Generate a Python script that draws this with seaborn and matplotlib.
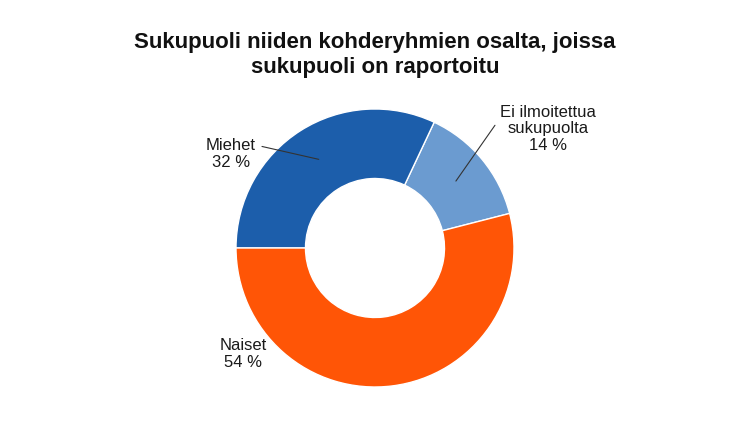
import matplotlib
matplotlib.use("Agg")
import matplotlib.pyplot as plt
import seaborn as sns
import numpy as np

title = "Sukupuoli niiden kohderyhmien osalta, joissa\nsukupuoli on raportoitu"
categories = ["Ei ilmoitettua\nsukupuolta", "Miehet", "Naiset"]
values = [14, 32, 54]
value_labels = ["14 %", "32 %", "54 %"]
colors = ["#6b9bd0", "#1c5eab", "#ff5506"]

sns.set_theme(style="white")
plt.rcParams["font.family"] = ["Liberation Sans", "DejaVu Sans"]

W, H = 750, 436
fig = plt.figure(figsize=(W / 100, H / 100), dpi=100)
ax = fig.add_axes([0, 0, 1, 1])

cx, cy, R = 375, H - 248, 139
start = 180 - (values[0] + values[1]) * 3.6
wedges, _ = ax.pie(values, colors=sns.color_palette(colors), startangle=start,
                   counterclock=True, center=(cx, cy), radius=R, frame=True,
                   wedgeprops=dict(width=R * 0.5, edgecolor="white", linewidth=1))
ax.set_xlim(0, W)
ax.set_ylim(0, H)
ax.set_axis_off()

# label text positions (pixels from top-left) and leader line styles
text_pos = [(548, 129), (231, 154), (243, 354)]
leader = [True, True, False]
relpos = [(0.0, 0.62), (1.0, 0.78), (0.5, 0.5)]
conn = ["angle,angleA=0,angleB=55,rad=0", "arc3,rad=0", None]
for w, cat, vl, (tx, ty), ld, rp, cs in zip(wedges, categories, value_labels,
                                            text_pos, leader, relpos, conn):
    mid = np.deg2rad((w.theta1 + w.theta2) / 2)
    px, py = cx + 105 * np.cos(mid), cy + 105 * np.sin(mid)
    kw = {}
    if ld:
        kw["arrowprops"] = dict(arrowstyle="-", color="#333333", lw=0.8,
                                shrinkA=2, shrinkB=0, relpos=rp,
                                connectionstyle=cs)
    ax.annotate(f"{cat}\n{vl}", xy=(px, py), xytext=(tx, H - ty),
                ha="center", va="center", fontsize=12, color="#1a1a1a",
                linespacing=1.15, **kw)

fig.text(375 / W, 1 - 55 / H, title, ha="center", va="center",
         fontsize=16, fontweight="bold", color="#111111", linespacing=1.2)

fig.savefig("out.png", dpi=100, facecolor="white")
